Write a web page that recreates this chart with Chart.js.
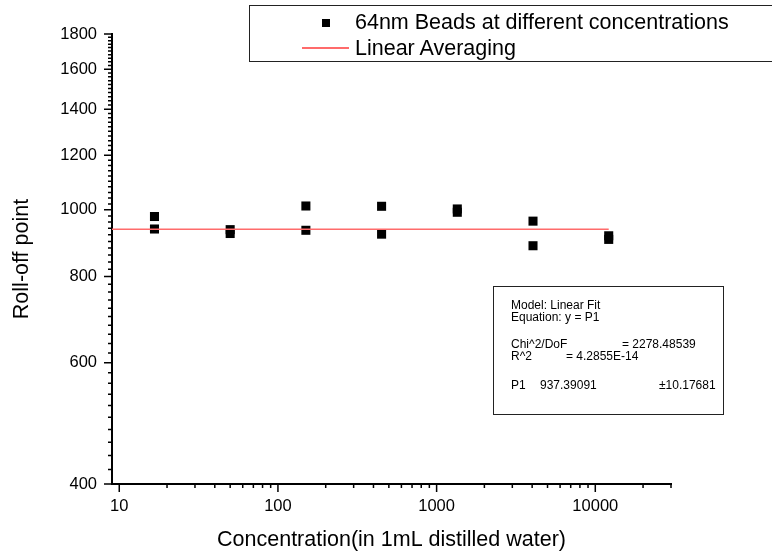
<!DOCTYPE html>
<html>
<head>
<meta charset="utf-8">
<title>Roll-off point vs concentration</title>
<script src="https://cdn.jsdelivr.net/npm/chart.js@4.4.0/dist/chart.umd.min.js"></script>
<style>
    body { margin: 0; background: #fff; }
    #wrap { position: relative; width: 772px; height: 557px; overflow: hidden; font-family: "Liberation Sans", Arial, sans-serif; color: #000; }
    canvas { position: absolute; left: 0; top: 0; }
    .legendBox { position: absolute; left: 249px; top: 5px; width: 560px; height: 55px; border: 1px solid #222; }
    .legendText { position: absolute; left: 355px; font-size: 21.5px; line-height: 24px; white-space: nowrap; }
    .legendSquare { position: absolute; left: 322px; top: 19px; width: 8px; height: 8px; background: #000; }
    .legendLine { position: absolute; left: 302px; top: 47px; width: 47px; height: 1.5px; background: #ff6b6b; }
    .fitBox { position: absolute; left: 493px; top: 286px; width: 229px; height: 127px; border: 1px solid #222; }
    .fitText { position: absolute; font-size: 12px; line-height: 13px; white-space: nowrap; }
</style>
</head>
<body>
<div id="wrap">
    <canvas id="rolloffChart" width="772" height="557"></canvas>
    <div class="legendBox"></div>
    <div class="legendSquare"></div>
    <div class="legendText" style="top:10px">64nm Beads at different concentrations</div>
    <div class="legendLine"></div>
    <div class="legendText" style="top:36px">Linear Averaging</div>
    <div class="fitBox"></div>
    <div class="fitText" style="left:511px;top:299px">Model: Linear Fit</div>
    <div class="fitText" style="left:511px;top:311px">Equation: y = P1</div>
    <div class="fitText" style="left:511px;top:338px">Chi^2/DoF</div>
    <div class="fitText" style="left:622px;top:338px">= 2278.48539</div>
    <div class="fitText" style="left:511px;top:350px">R^2</div>
    <div class="fitText" style="left:566px;top:350px">= 4.2855E-14</div>
    <div class="fitText" style="left:511px;top:379px">P1</div>
    <div class="fitText" style="left:540px;top:379px">937.39091</div>
    <div class="fitText" style="left:659px;top:379px">±10.17681</div>
</div>
<script>
// bead concentrations (x), two roll-off readings at each
const concentrations = [16.67, 50, 150, 450, 1350, 4050, 12150];
const rolloffA = [978, 936, 1013, 1012, 1003, 963, 917];
const rolloffB = [938, 924, 934, 922, 992, 887, 906];

// linear averaging fit: y = P1
const fitP1 = 937.39091;
const fitRange = [9, 12150];

const xTickLabels = [10, 100, 1000, 10000];
const yTickLabels = [400, 600, 800, 1000, 1200, 1400, 1600, 1800];
const yMinorStep = 20;

const xTicks = [];
xTickLabels.forEach(d => {
    for (let m = 1; m <= 9; m++) {
        if (d * m <= 30000) xTicks.push(d * m);
    }
});
const yTicks = [];
for (let v = yTickLabels[0]; v <= yTickLabels[yTickLabels.length - 1]; v += yMinorStep) yTicks.push(v);

const tickFont = { family: "Liberation Sans", size: 16.5 };
const titleFont = { family: "Liberation Sans", size: 21.5 };

// tick marks: long at labelled values, short otherwise
const tickMarks = {
    id: "tickMarks",
    afterDraw(chart) {
        const ctx = chart.ctx;
        const xs = chart.scales.x, ys = chart.scales.y;
        ctx.save();
        ctx.strokeStyle = "#000";
        ctx.lineWidth = 1.5;
        ctx.beginPath();
        xs.ticks.forEach(t => {
            const px = xs.getPixelForValue(t.value);
            const len = xTickLabels.includes(t.value) ? 8 : 4;
            ctx.moveTo(px, xs.top);
            ctx.lineTo(px, xs.top + len);
        });
        ys.ticks.forEach(t => {
            const py = ys.getPixelForValue(t.value);
            const len = yTickLabels.includes(t.value) ? 8 : 4;
            ctx.moveTo(ys.right, py);
            ctx.lineTo(ys.right - len, py);
        });
        ctx.stroke();
        ctx.restore();
    }
};

const points = [];
concentrations.forEach((c, i) => {
    points.push({ x: c, y: rolloffA[i] });
    points.push({ x: c, y: rolloffB[i] });
});

new Chart(document.getElementById("rolloffChart").getContext("2d"), {
    type: "scatter",
    data: {
        datasets: [{
            label: "Linear Averaging",
            type: "line",
            data: fitRange.map(x => ({ x: x, y: fitP1 })),
            borderColor: "#ff6b6b",
            borderWidth: 1.5,
            pointRadius: 0,
            fill: false
        }, {
            label: "64nm Beads at different concentrations",
            data: points,
            pointStyle: "rect",
            pointRadius: 6.4,
            backgroundColor: "#000",
            borderWidth: 0
        }]
    },
    options: {
        responsive: false,
        animation: false,
        events: [],
        layout: { padding: { top: 34, right: 101, left: 0, bottom: 0 } },
        plugins: { legend: { display: false }, tooltip: { enabled: false } },
        scales: {
            x: {
                type: "logarithmic",
                min: 9,
                max: 30000,
                afterBuildTicks: scale => { scale.ticks = xTicks.map(v => ({ value: v })); },
                afterFit: scale => { scale.height = 73; },
                grid: { drawOnChartArea: false, drawTicks: false },
                border: { display: true, color: "#000", width: 2 },
                ticks: {
                    autoSkip: false,
                    maxRotation: 0,
                    padding: 13,
                    color: "#000",
                    font: tickFont,
                    callback: v => xTickLabels.includes(v) ? String(v) : ""
                },
                title: {
                    display: true,
                    text: "Concentration(in 1mL distilled water)",
                    color: "#000",
                    font: titleFont,
                    padding: { top: 0, bottom: 4 }
                }
            },
            y: {
                type: "logarithmic",
                min: 400,
                max: 1800,
                afterBuildTicks: scale => { scale.ticks = yTicks.map(v => ({ value: v })); },
                afterFit: scale => { scale.width = 112; },
                grid: { drawOnChartArea: false, drawTicks: false },
                border: { display: true, color: "#000", width: 2 },
                ticks: {
                    autoSkip: false,
                    padding: 15,
                    color: "#000",
                    font: tickFont,
                    callback: v => yTickLabels.includes(v) ? String(v) : ""
                },
                title: {
                    display: true,
                    text: "Roll-off point",
                    color: "#000",
                    font: titleFont,
                    padding: { top: 9, bottom: 0 }
                }
            }
        }
    },
    plugins: [tickMarks]
});
</script>
</body>
</html>
